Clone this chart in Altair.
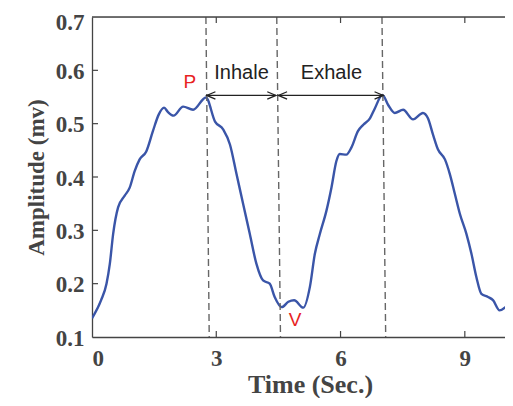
import altair as alt
import pandas as pd

# ---- data ----
time_s = [0.00, 0.22, 0.35, 0.43, 0.51, 0.63, 0.79, 0.91, 1.03, 1.15, 1.31, 1.47, 1.61, 1.74,
          1.83, 1.97, 2.20, 2.44, 2.75, 2.97, 3.17, 3.33, 3.49, 3.65, 3.81, 3.97, 4.13, 4.29,
          4.41, 4.58, 4.74, 4.88, 5.10, 5.26, 5.38, 5.50, 5.66, 5.78, 5.90, 5.98, 6.14, 6.26,
          6.42, 6.55, 6.71, 6.83, 7.01, 7.15, 7.31, 7.51, 7.75, 7.99, 8.11, 8.23, 8.35, 8.52,
          8.64, 8.76, 8.88, 9.04, 9.16, 9.28, 9.40, 9.56, 9.68, 9.84, 10.00, 10.16]
amplitude = [0.135, 0.169, 0.200, 0.237, 0.293, 0.343, 0.365, 0.380, 0.411, 0.433, 0.448, 0.486,
             0.517, 0.530, 0.522, 0.515, 0.532, 0.526, 0.549, 0.504, 0.489, 0.461, 0.405, 0.349,
             0.293, 0.237, 0.206, 0.200, 0.175, 0.156, 0.166, 0.169, 0.155, 0.194, 0.256, 0.293,
             0.337, 0.380, 0.430, 0.443, 0.442, 0.455, 0.486, 0.498, 0.510, 0.529, 0.554, 0.535,
             0.520, 0.526, 0.508, 0.520, 0.510, 0.480, 0.452, 0.433, 0.405, 0.368, 0.331, 0.293,
             0.256, 0.212, 0.181, 0.175, 0.169, 0.150, 0.157, 0.166]

# dashed markers (top and bottom time positions, slightly slanted)
dash_top = [2.75, 4.46, 7.00]
dash_bot = [2.83, 4.55, 7.09]

# arrows
arrow_start = [2.77, 4.50]
arrow_end = [4.44, 7.03]
arrow_level = 0.553
head_t = [2.77, 4.44, 4.50, 7.03]
head_angle = [180, 0, 180, 0]

# annotations
ann_text = ["Inhale", "Exhale"]
ann_t = [3.61, 5.78]
ann_a = [0.583, 0.583]
pv_text = ["P", "V"]
pv_t = [2.36, 4.90]
pv_a = [0.566, 0.120]

x_ticks = [0, 3, 6, 9]
y_ticks = [0.1, 0.2, 0.3, 0.4, 0.5, 0.6, 0.7]
XMIN, XMAX = 0, 9.97
YMIN, YMAX = 0.1, 0.7

W, H = 413, 320
AX = "#444444"
SERIF = "Liberation Serif"
SANS = "Liberation Sans"

xs = alt.Scale(domain=[XMIN, XMAX], nice=False, zero=False)
ys = alt.Scale(domain=[YMIN, YMAX], nice=False, zero=False)

curve_df = pd.DataFrame({"t": time_s, "a": amplitude})
dash_df = pd.DataFrame({"t1": dash_top, "t2": dash_bot, "a1": [YMAX] * 3, "a2": [YMIN] * 3})
arrow_df = pd.DataFrame({"t1": arrow_start, "t2": arrow_end, "a": [arrow_level] * 2})
head_df = pd.DataFrame({"t": head_t, "ang": head_angle, "a": [arrow_level] * 4})
ann_df = pd.DataFrame({"txt": ann_text, "t": ann_t, "a": ann_a})
pv_df = pd.DataFrame({"txt": pv_text, "t": pv_t, "a": pv_a})
xt_df = pd.DataFrame({"t": x_ticks[1:]})
yt_df = pd.DataFrame({"a": y_ticks[1:-1]})
border_df = pd.DataFrame({"t1": [XMIN], "t2": [XMAX], "a": [YMAX]})

curve = alt.Chart(curve_df).mark_line(color="#3a55a8", strokeWidth=2.4, interpolate="monotone", clip=True).encode(
    x=alt.X("t:Q", scale=xs, axis=alt.Axis(
        values=x_ticks, format="d", title="Time (Sec.)", ticks=False, grid=False,
        domainColor=AX, domainWidth=1.3, labelColor=AX, labelFont=SERIF, labelFontWeight="bold",
        labelFontSize=23, labelPadding=10, titleFont=SERIF, titleFontWeight="bold",
        titleFontSize=26, titleColor=AX, titleX=218, titleY=55, titleBaseline="alphabetic")),
    y=alt.Y("a:Q", scale=ys, axis=alt.Axis(
        values=y_ticks, format=".1f", title="Amplitude (mv)", ticks=False, grid=False,
        domainColor=AX, domainWidth=1.3, labelColor=AX, labelFont=SERIF, labelFontWeight="bold",
        labelFontSize=23, labelPadding=8,
        labelOffset={"condition": {"test": "datum.value > 0.65", "value": 5}, "value": 1},
        titleFont=SERIF, titleFontWeight="bold",
        titleFontSize=23, titleColor=AX, titlePadding=7)),
)

dashes = alt.Chart(dash_df).mark_rule(color="#666666", strokeWidth=1.4, strokeDash=[7, 4]).encode(
    x=alt.X("t1:Q", scale=xs, axis=None), x2="t2:Q",
    y=alt.Y("a1:Q", scale=ys, axis=None), y2="a2:Q",
)

shafts = alt.Chart(arrow_df).mark_rule(color="#222222", strokeWidth=1.3).encode(
    x=alt.X("t1:Q", scale=xs, axis=None), x2="t2:Q",
    y=alt.Y("a:Q", scale=ys, axis=None),
)

heads = alt.Chart(head_df).mark_point(
    shape="M -1 -0.42 L 0 0 L -1 0.42", filled=False, size=300, strokeWidth=1.3, color="#222222", opacity=1
).encode(
    x=alt.X("t:Q", scale=xs, axis=None),
    y=alt.Y("a:Q", scale=ys, axis=None),
    angle=alt.Angle("ang:Q", scale=None),
)

ann = alt.Chart(ann_df).mark_text(font=SANS, fontSize=20, color="#222222", align="center", baseline="alphabetic").encode(
    x=alt.X("t:Q", scale=xs, axis=None), y=alt.Y("a:Q", scale=ys, axis=None), text="txt:N")

pv = alt.Chart(pv_df).mark_text(font=SANS, fontSize=19, color="#e8231f", align="center", baseline="alphabetic").encode(
    x=alt.X("t:Q", scale=xs, axis=None), y=alt.Y("a:Q", scale=ys, axis=None), text="txt:N")

top_border = alt.Chart(border_df).mark_rule(color=AX, strokeWidth=1.3).encode(
    x=alt.X("t1:Q", scale=xs, axis=None), x2="t2:Q",
    y=alt.Y("a:Q", scale=ys, axis=None),
)

bottom_ticks = alt.Chart(xt_df).mark_rule(color=AX, strokeWidth=1.2).encode(
    x=alt.X("t:Q", scale=xs, axis=None), y=alt.value(H), y2=alt.value(H - 6))
top_ticks = alt.Chart(xt_df).mark_rule(color=AX, strokeWidth=1.2).encode(
    x=alt.X("t:Q", scale=xs, axis=None), y=alt.value(0), y2=alt.value(6))
left_ticks = alt.Chart(yt_df).mark_rule(color=AX, strokeWidth=1.2).encode(
    y=alt.Y("a:Q", scale=ys, axis=None), x=alt.value(0), x2=alt.value(6))

chart = alt.layer(
    curve, dashes, shafts, heads, ann, pv, top_border, bottom_ticks, top_ticks, left_ticks
).resolve_axis(x="independent", y="independent").properties(
    width=W, height=H,
    autosize=alt.AutoSizeParams(type="none"),
    padding={"left": 84, "top": 9, "right": 0, "bottom": 61},
).configure_view(stroke=None).configure(background="white")

chart.save("out.html", embed_options={"renderer": "svg", "actions": False})
